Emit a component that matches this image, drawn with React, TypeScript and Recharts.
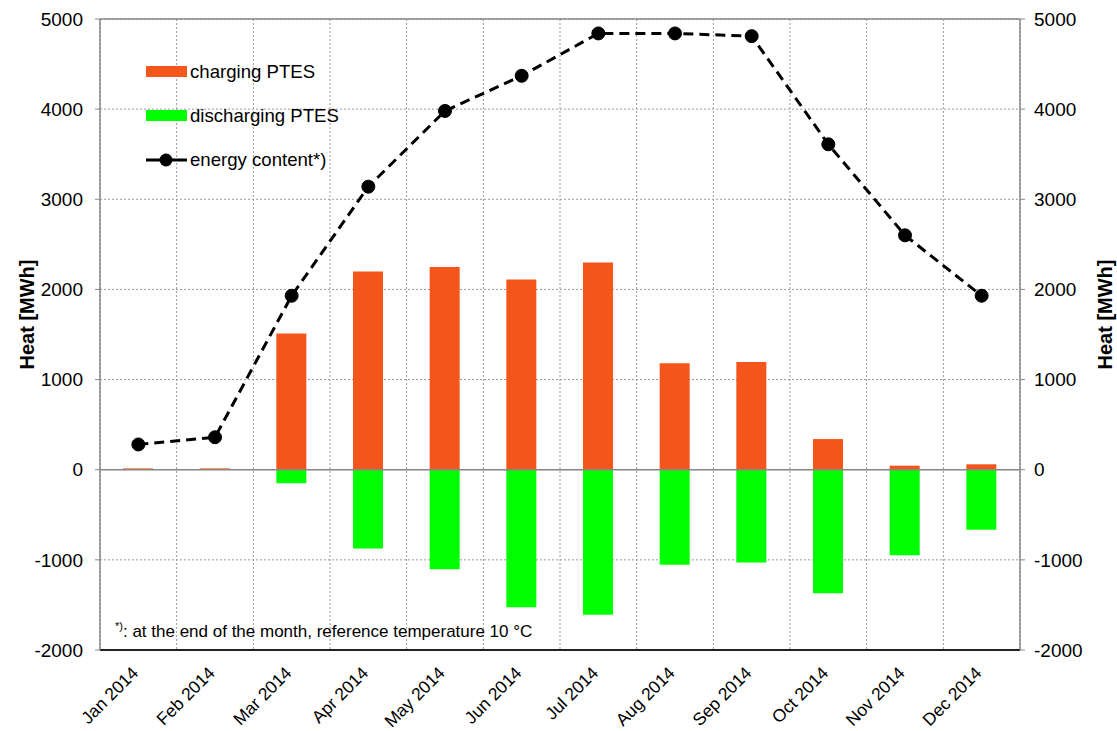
import { Bar, CartesianGrid, ComposedChart, Line, ReferenceLine, XAxis, YAxis } from 'recharts';

const months = ['Jan 2014', 'Feb 2014', 'Mar 2014', 'Apr 2014', 'May 2014', 'Jun 2014', 'Jul 2014', 'Aug 2014', 'Sep 2014', 'Oct 2014', 'Nov 2014', 'Dec 2014'];
const charging = [15, 15, 1510, 2200, 2250, 2110, 2300, 1180, 1195, 340, 45, 60];
const discharging = [0, 0, -150, -875, -1105, -1525, -1610, -1055, -1030, -1370, -950, -665];
const energyContent = [280, 360, 1930, 3140, 3980, 4370, 4840, 4840, 4810, 3610, 2600, 1930];
const yTicks = [-2000, -1000, 0, 1000, 2000, 3000, 4000, 5000];

const data = months.map((month, i) => ({
  month,
  charging: charging[i],
  discharging: discharging[i],
  energy: energyContent[i],
}));

const font = '"Liberation Sans", Arial, sans-serif';

// rotated month labels
function MonthTick(props: any) {
  const { x, y, payload } = props;
  return (
    <g transform={`translate(${x + 1},${y + 16})`}>
      <text x={0} y={0} transform="rotate(-45)" textAnchor="end" fontSize={17.5} fill="#000" fontFamily={font}>
        {payload.value}
      </text>
    </g>
  );
}

// vertical axis title, centred on the plot height
function AxisTitle(props: any) {
  const { viewBox, cx } = props;
  const cy = viewBox.y + viewBox.height / 2 - 20;
  return (
    <text
      x={cx}
      y={cy}
      transform={`rotate(-90, ${cx}, ${cy})`}
      textAnchor="middle"
      dominantBaseline="central"
      fontSize={20}
      fontWeight="bold"
      fill="#000"
      fontFamily={font}
    >
      Heat [MWh]
    </text>
  );
}

function ChartLegend() {
  const items = [
    { label: 'charging PTES', color: '#F4551A', kind: 'bar' },
    { label: 'discharging PTES', color: '#00FF00', kind: 'bar' },
    { label: 'energy content*)', color: '#000', kind: 'line' },
  ];
  return (
    <div style={{ position: 'absolute', left: 146, top: 50, fontFamily: font, fontSize: 18.6 }}>
      {items.map((it) => (
        <div key={it.label} style={{ display: 'flex', alignItems: 'center', height: 44 }}>
          <svg width={44} height={16}>
            {it.kind === 'bar' ? (
              <rect x={0} y={2} width={41} height={11} fill={it.color} />
            ) : (
              <g>
                <line x1={0} y1={8} x2={41} y2={8} stroke="#000" strokeWidth={3} />
                <circle cx={20} cy={8} r={6.5} fill="#000" />
              </g>
            )}
          </svg>
          <span>{it.label}</span>
        </div>
      ))}
    </div>
  );
}

export default function App() {
  return (
    <div style={{ position: 'absolute', left: 0, top: 0, width: 1117, height: 731, background: '#fff' }}>
      <ComposedChart
        width={1117}
        height={731}
        data={data}
        stackOffset="sign"
        margin={{ top: 19, right: 0, bottom: 0, left: 0 }}
      >
        <CartesianGrid
          yAxisId="left"
          stroke="#999"
          strokeDasharray="2 2"
          verticalCoordinatesGenerator={({ offset }: any) =>
            months.map((_, i) => offset.left + (i * offset.width) / months.length).concat(offset.left + offset.width)
          }
        />
        <XAxis
          dataKey="month"
          interval={0}
          height={81}
          tickLine={false}
          axisLine={{ stroke: '#222', strokeWidth: 2 }}
          tick={<MonthTick />}
        />
        <YAxis
          yAxisId="left"
          width={100}
          domain={[-2000, 5000]}
          ticks={yTicks}
          tickSize={5}
          tickMargin={12}
          axisLine={{ stroke: '#888', strokeWidth: 1.5 }}
          tickLine={{ stroke: '#888' }}
          tick={{ fontSize: 19, fill: '#000', fontFamily: font }}
          label={(p: any) => <AxisTitle {...p} cx={27} />}
        />
        <YAxis
          yAxisId="right"
          orientation="right"
          width={97}
          domain={[-2000, 5000]}
          ticks={yTicks}
          tickSize={5}
          tickMargin={9}
          axisLine={{ stroke: '#888', strokeWidth: 1.5 }}
          tickLine={{ stroke: '#888' }}
          tick={{ fontSize: 19, fill: '#000', fontFamily: font, textAnchor: 'start' }}
          label={(p: any) => <AxisTitle {...p} cx={1105} />}
        />
        <ReferenceLine yAxisId="left" y={5000} stroke="#888" strokeWidth={1.5} />
        <ReferenceLine yAxisId="left" y={0} stroke="#888" strokeWidth={1.5} />
        <Bar yAxisId="left" dataKey="charging" stackId="heat" fill="#F4551A" barSize={30} isAnimationActive={false} />
        <Bar yAxisId="left" dataKey="discharging" stackId="heat" fill="#00FF00" barSize={30} isAnimationActive={false} />
        <Line
          yAxisId="right"
          type="linear"
          dataKey="energy"
          stroke="#000"
          strokeWidth={3}
          strokeDasharray="10 6"
          dot={{ r: 6.5, fill: '#000', stroke: '#000', strokeWidth: 1, strokeDasharray: '' }}
          isAnimationActive={false}
        />
      </ComposedChart>
      <ChartLegend />
      <div style={{ position: 'absolute', left: 115, top: 620, fontFamily: font, fontSize: 17, color: '#000' }}>
        <sup style={{ fontSize: 11 }}>*)</sup>: at the end of the month, reference temperature 10 °C
      </div>
    </div>
  );
}
